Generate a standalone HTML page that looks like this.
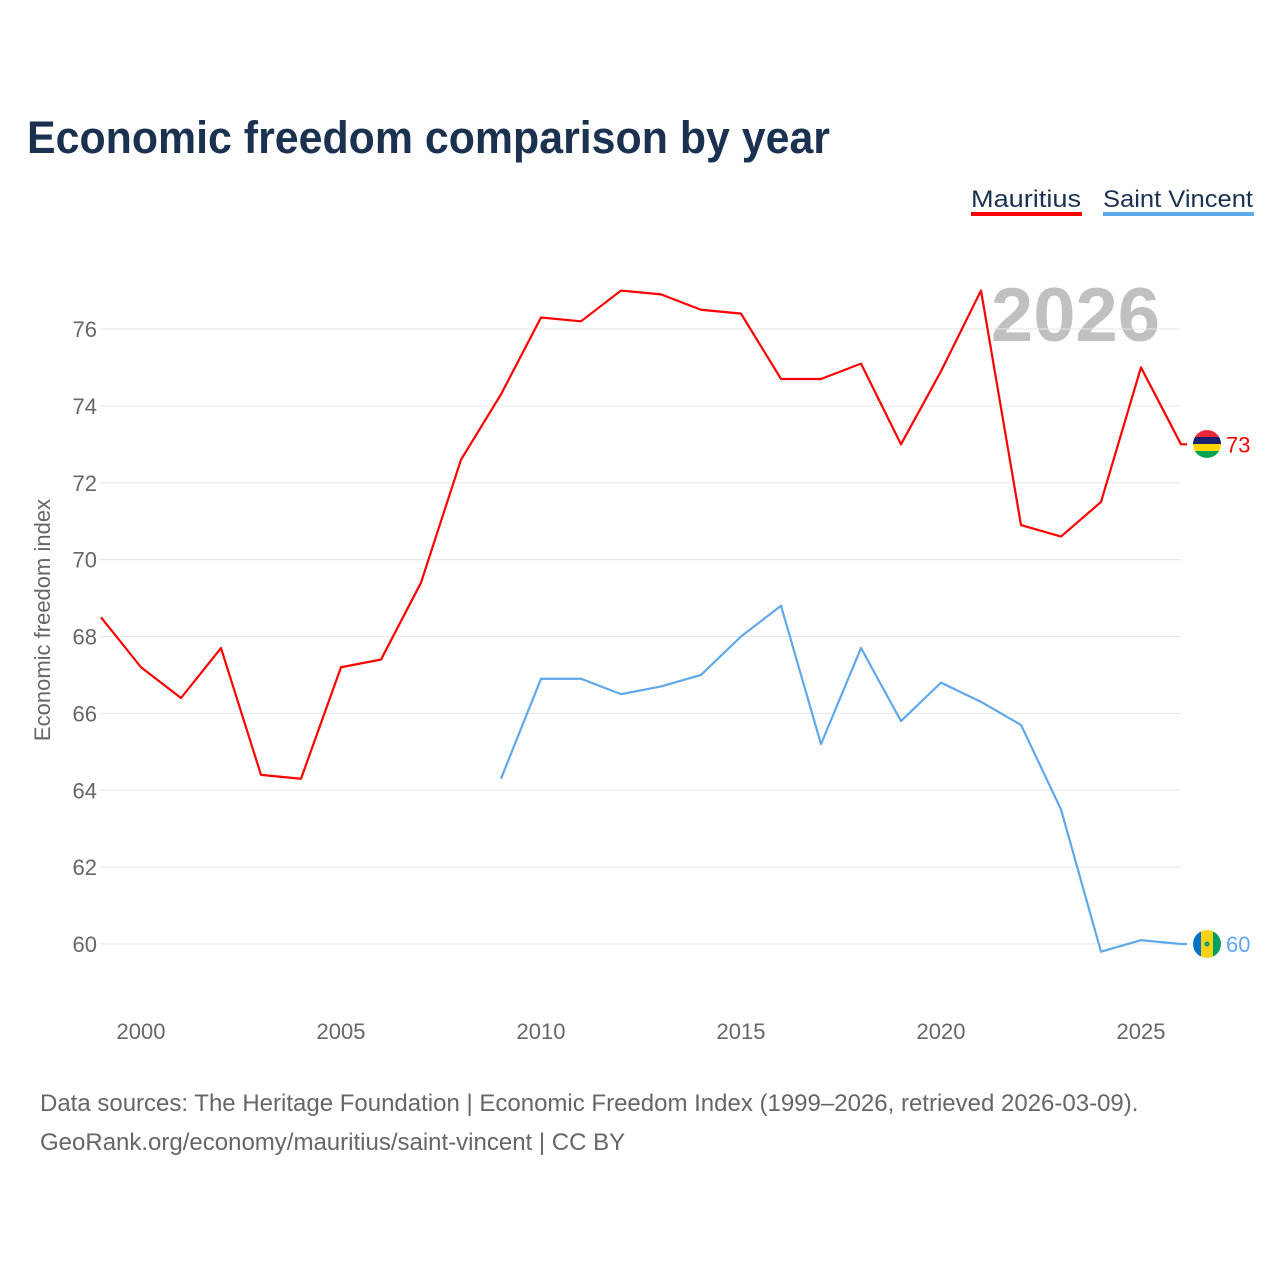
<!DOCTYPE html>
<html><head><meta charset="utf-8"><style>
body{margin:0;background:#fff;font-family:"Liberation Sans",sans-serif;}
#c{position:relative;width:1280px;height:1280px;overflow:hidden;background:#fff}
</style></head><body>
<div id="c">
<svg id="s" width="1280" height="1280" xmlns="http://www.w3.org/2000/svg">
<defs>
<clipPath id="cm"><circle cx="1207" cy="444" r="14"/></clipPath>
<clipPath id="cv"><circle cx="1207" cy="944" r="14"/></clipPath>
</defs>
<text x="27" y="153" font-size="45" font-weight="bold" fill="#1b3150" textLength="803" lengthAdjust="spacingAndGlyphs">Economic freedom comparison by year</text>
<g><text x="971" y="207" font-size="24" fill="#1b3150" textLength="110" lengthAdjust="spacingAndGlyphs">Mauritius</text><rect x="971" y="212" width="111" height="4" fill="#f00"/></g>
<g><text x="1103" y="207" font-size="24" fill="#1b3150" textLength="150" lengthAdjust="spacingAndGlyphs">Saint Vincent</text><rect x="1103" y="212" width="151" height="4" fill="#5fa8ec"/></g>
<text x="1160" y="341" font-size="76" font-weight="bold" fill="#c0c0c0" text-anchor="end">2026</text>
<g id="grid"></g><g id="ticks"></g>
<text transform="translate(50,620) rotate(-90)" font-size="22" fill="#666" text-anchor="middle">Economic freedom index</text>
<g id="series"></g>
<g clip-path="url(#cm)">
<rect x="1193" y="430" width="28" height="7" fill="#ea2839"/><rect x="1193" y="437" width="28" height="7" fill="#1a206d"/><rect x="1193" y="444" width="28" height="7" fill="#ffd500"/><rect x="1193" y="451" width="28" height="7" fill="#00a551"/>
</g>
<g clip-path="url(#cv)">
<rect x="1193" y="930" width="8" height="28" fill="#0072c6"/><rect x="1201" y="930" width="12" height="28" fill="#fcd116"/><rect x="1213" y="930" width="8" height="28" fill="#009e60"/><circle cx="1207" cy="944" r="2.5" fill="#009e60"/>
</g>
<text x="40" y="1111" font-size="24" fill="#666">Data sources: The Heritage Foundation | Economic Freedom Index (1999–2026, retrieved 2026-03-09).</text>
<text x="40" y="1150" font-size="24" fill="#666">GeoRank.org/economy/mauritius/saint-vincent | CC BY</text>
</svg></div>
<script>
const years=[1999,2000,2001,2002,2003,2004,2005,2006,2007,2008,2009,2010,2011,2012,2013,2014,2015,2016,2017,2018,2019,2020,2021,2022,2023,2024,2025,2026];
const mauritius=[68.5,67.2,66.4,67.7,64.4,64.3,67.2,67.4,69.4,72.6,74.3,76.3,76.2,77.0,76.9,76.5,76.4,74.7,74.7,75.1,73.0,74.9,77.0,70.9,70.6,71.5,75.0,73.0];
const saintVincent=[null,null,null,null,null,null,null,null,null,null,64.3,66.9,66.9,66.5,66.7,67.0,68.0,68.8,65.2,67.7,65.8,66.8,66.3,65.7,63.5,59.8,60.1,60.0];
const yTicks=[60,62,64,66,68,70,72,74,76];
const xTicks=[2000,2005,2010,2015,2020,2025];
const NS="http://www.w3.org/2000/svg";
const x=v=>141+(v-2000)*40;
const y=v=>944-(v-60)*38.4375;
function el(t,a,p){const e=document.createElementNS(NS,t);for(const k in a)e.setAttribute(k,a[k]);document.getElementById(p).appendChild(e);return e;}
yTicks.forEach(t=>{
 const l=el('line',{x1:100,x2:1181,y1:y(t),y2:y(t),stroke:'#e6e6e6','stroke-width':1},'grid');
 
 
 const tx=el('text',{x:97,y:y(t)+8,'font-size':22,fill:'#666','text-anchor':'end'},'ticks');tx.textContent=t;
 
 
});
xTicks.forEach(t=>{
 const tx=el('text',{x:x(t),y:1039,'font-size':22,fill:'#666','text-anchor':'middle'},'ticks');tx.textContent=t;
 
 
});
function draw(vals,color,name,lab){
 let pts=[];vals.forEach((v,i)=>{if(v!=null)pts.push(x(years[i])+','+y(v));});
 const last=vals[vals.length-1];
 pts.push((x(years[years.length-1])+6)+','+y(last));
 const p=el('polyline',{points:pts.join(' '),fill:'none',stroke:color,'stroke-width':2.2,'stroke-linejoin':'round'},'series');
 
 
 const t=el('text',{x:1226,y:y(last)+8,'font-size':22,fill:color},'series');t.textContent=lab;
 
 
}
draw(mauritius,'#ff0000','mauritius','73');
draw(saintVincent,'#5fa8ec','saint-vincent','60');
</script></body></html>
